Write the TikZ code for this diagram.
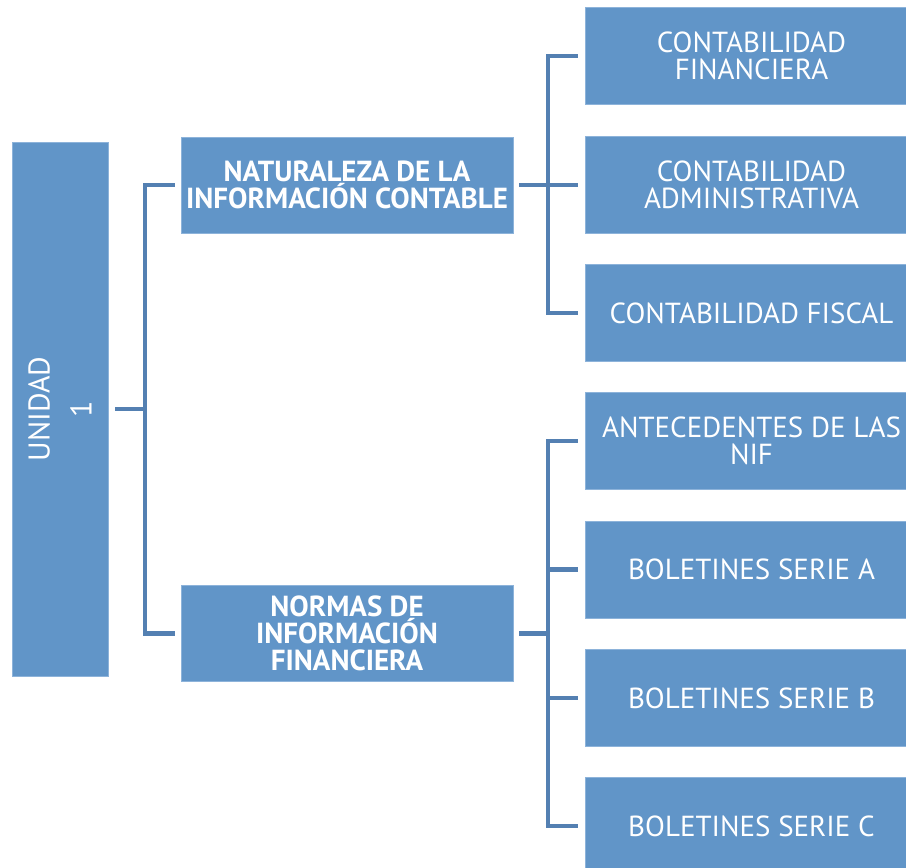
\documentclass[tikz,border=0pt]{standalone}
\usepackage{fontspec}
\setmainfont{PT Sans}
\definecolor{boxfill}{HTML}{6195C8}
\definecolor{boxedge}{HTML}{8DB3DA}
\definecolor{linecol}{HTML}{5480B2}
\tikzset{
  box/.style={rectangle, fill=boxfill, draw=boxedge, line width=0.8pt, inner sep=0pt, text=white, align=center,
    font=\fontsize{29}{27}\selectfont},
  rbox/.style={box, minimum width=321pt, minimum height=97pt},
  rtext/.style={text=white, align=center, inner sep=0pt, font=\fontsize{29}{27}\selectfont},
  mbox/.style={box, minimum width=332pt, minimum height=96pt, font=\bfseries\fontsize{29}{27}\selectfont},
  conn/.style={draw=linecol, line width=4.5pt}
}
\begin{document}
\begin{tikzpicture}[x=1pt,y=-1pt]
\useasboundingbox (0,0) rectangle (906,868);
\node[box, minimum width=96pt, minimum height=534pt] (u) at (60,409) {};
\node[rotate=90, text=white, align=center, font=\fontsize{30}{42}\selectfont] (ut) at (u.center) {UNIDAD\\1};
\node[mbox] (nat) at (347,185) {NATURALEZA DE LA\\INFORMACIÓN CONTABLE};
\node[mbox] (norm) at (347,633.5) {NORMAS DE\\INFORMACIÓN\\FINANCIERA};
\node[rbox] (r1) at (745.5,56) {};
\node[rbox] (r2) at (745.5,185) {};
\node[rbox] (r3) at (745.5,313) {};
\node[rbox] (r4) at (745.5,441) {};
\node[rbox] (r5) at (745.5,569.5) {};
\node[rbox] (r6) at (745.5,698) {};
\node[rbox] (r7) at (745.5,826) {};
\node[rtext] (t1) at ([xshift=6pt]r1.center) {CONTABILIDAD\\FINANCIERA};
\node[rtext] (t2) at ([xshift=6pt]r2.center) {CONTABILIDAD\\ADMINISTRATIVA};
\node[rtext] (t3) at ([xshift=6pt]r3.center) {CONTABILIDAD FISCAL};
\node[rtext] (t4) at ([xshift=6pt]r4.center) {ANTECEDENTES DE LAS\\NIF};
\node[rtext] (t5) at ([xshift=6pt]r5.center) {BOLETINES SERIE A};
\node[rtext] (t6) at ([xshift=6pt]r6.center) {BOLETINES SERIE B};
\node[rtext] (t7) at ([xshift=6pt]r7.center) {BOLETINES SERIE C};
% bracket 1
\coordinate (b1) at (145,0);
\draw[conn] ([xshift=7pt]u.east) -- (b1 |- u.east);
\draw[conn] ([xshift=-6pt]nat.west) -| (b1 |- nat.west) -- (b1 |- norm.west) -- ([xshift=-6pt]norm.west);
% bracket 2
\coordinate (b2) at (548,0);
\draw[conn] ([xshift=6pt]nat.east) -- (b2 |- nat.east);
\draw[conn] ([xshift=-7pt]r1.west) -- (b2 |- r1.west) -- (b2 |- r3.west) -- ([xshift=-7pt]r3.west);
\draw[conn] (b2 |- r2.west) -- ([xshift=-7pt]r2.west);
% bracket 3
\draw[conn] ([xshift=6pt]norm.east) -- (b2 |- norm.east);
\draw[conn] ([xshift=-7pt]r4.west) -- (b2 |- r4.west) -- (b2 |- r7.west) -- ([xshift=-7pt]r7.west);
\draw[conn] (b2 |- r5.west) -- ([xshift=-7pt]r5.west);
\draw[conn] (b2 |- r6.west) -- ([xshift=-7pt]r6.west);
\end{tikzpicture}
\end{document}
